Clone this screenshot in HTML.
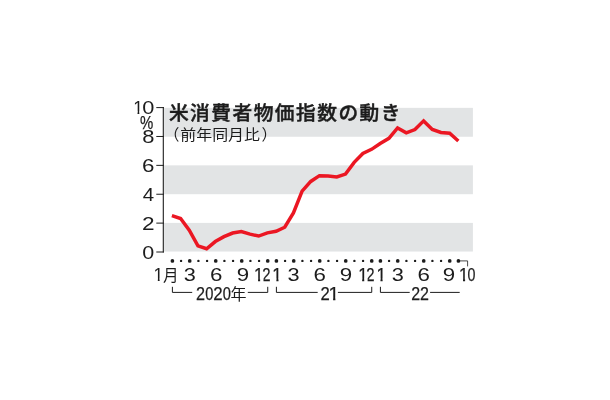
<!DOCTYPE html><html lang="ja"><head><meta charset="utf-8"><title>米消費者物価指数の動き</title>
<style>html,body{margin:0;padding:0;background:#fff}svg{display:block}text{font-family:"Liberation Sans","Noto Sans CJK JP",sans-serif;fill:#1c1c1c}.cd{stroke:#1c1c1c;stroke-width:0.25px}.jp{font-family:"Noto Sans CJK JP","Liberation Sans",sans-serif}</style></head><body>
<svg width="610" height="400" viewBox="0 0 610 400">
<rect width="610" height="400" fill="#fff"/>
<rect x="164.1" y="107.85" width="308.80" height="28.90" fill="#e2e4e5"/>
<rect x="164.1" y="165.35" width="308.80" height="28.85" fill="#e2e4e5"/>
<rect x="164.1" y="222.90" width="308.80" height="28.65" fill="#e2e4e5"/>
<path d="M163.3 107.10 V252.50" stroke="#1c1c1c" stroke-width="1.1" fill="none"/>
<path d="M156.3 252.00 H163.8" stroke="#1c1c1c" stroke-width="1" fill="none"/>
<path d="M156.3 223.12 H163.8" stroke="#1c1c1c" stroke-width="1" fill="none"/>
<path d="M156.3 194.24 H163.8" stroke="#1c1c1c" stroke-width="1" fill="none"/>
<path d="M156.3 165.36 H163.8" stroke="#1c1c1c" stroke-width="1" fill="none"/>
<path d="M156.3 136.48 H163.8" stroke="#1c1c1c" stroke-width="1" fill="none"/>
<path d="M156.3 107.60 H163.8" stroke="#1c1c1c" stroke-width="1" fill="none"/>
<text y="258.70" font-size="18.4"><tspan x="142.36" textLength="11.98" lengthAdjust="spacingAndGlyphs">0</tspan></text>
<text y="229.82" font-size="18.4"><tspan x="142.06" textLength="12.57" lengthAdjust="spacingAndGlyphs">2</tspan></text>
<text y="200.94" font-size="18.4"><tspan x="142.73" textLength="11.37" lengthAdjust="spacingAndGlyphs">4</tspan></text>
<text y="172.06" font-size="18.4"><tspan x="142.07" textLength="12.41" lengthAdjust="spacingAndGlyphs">6</tspan></text>
<text y="143.18" font-size="18.4"><tspan x="142.25" textLength="12.21" lengthAdjust="spacingAndGlyphs">8</tspan></text>
<text y="113.90" font-size="18.4"><tspan x="133.20" textLength="9.82" lengthAdjust="spacingAndGlyphs">1</tspan><tspan x="142.25" textLength="12.10" lengthAdjust="spacingAndGlyphs">0</tspan></text>
<rect x="133.75" y="111.43" width="3.77" height="3.37" fill="#fff"/>
<rect x="139.32" y="111.43" width="3.64" height="3.37" fill="#fff"/>
<text class="cd" y="128.70" font-size="19.2"><tspan x="139.97" textLength="13.26" lengthAdjust="spacingAndGlyphs">%</tspan></text>
<text class="jp" x="168.9" y="119.9" font-size="19.7" font-weight="500" stroke="#1c1c1c" stroke-width="0.45" textLength="231.6" lengthAdjust="spacing">米消費者物価指数の動き</text>
<text class="jp" y="139.9" font-size="14.7" font-weight="400"><tspan x="163.9" y="140.3" font-size="15.4">（</tspan><tspan x="180.3" y="139.9" textLength="79.6" lengthAdjust="spacingAndGlyphs">前年同月比</tspan><tspan x="261.6" y="140.3" font-size="15.4">）</tspan></text>
<polyline points="171.90,215.68 180.58,218.57 189.26,230.12 197.94,245.88 206.62,248.77 215.30,241.54 223.98,236.63 232.66,233.02 241.34,231.57 250.02,234.17 258.70,236.05 267.38,232.87 276.06,231.28 284.74,227.24 293.42,212.93 302.10,191.11 310.78,181.43 319.46,175.65 328.14,175.94 336.82,176.95 345.50,174.06 354.18,162.35 362.86,153.54 371.54,149.35 380.22,143.43 388.90,138.37 397.58,127.96 406.26,132.88 414.94,129.55 423.62,120.88 432.30,129.41 440.98,132.44 449.66,133.31 458.34,140.97" fill="none" stroke="#eb1723" stroke-width="3.5" stroke-linejoin="miter" stroke-linecap="butt"/>
<circle cx="172.40" cy="260.9" r="1.85" fill="#1c1c1c"/>
<circle cx="181.07" cy="260.9" r="1.20" fill="#1c1c1c"/>
<circle cx="189.73" cy="260.9" r="1.85" fill="#1c1c1c"/>
<circle cx="198.40" cy="260.9" r="1.20" fill="#1c1c1c"/>
<circle cx="207.07" cy="260.9" r="1.20" fill="#1c1c1c"/>
<circle cx="215.74" cy="260.9" r="1.85" fill="#1c1c1c"/>
<circle cx="224.40" cy="260.9" r="1.20" fill="#1c1c1c"/>
<circle cx="233.07" cy="260.9" r="1.20" fill="#1c1c1c"/>
<circle cx="241.74" cy="260.9" r="1.85" fill="#1c1c1c"/>
<circle cx="250.40" cy="260.9" r="1.20" fill="#1c1c1c"/>
<circle cx="259.07" cy="260.9" r="1.20" fill="#1c1c1c"/>
<circle cx="267.74" cy="260.9" r="1.85" fill="#1c1c1c"/>
<circle cx="276.40" cy="260.9" r="1.85" fill="#1c1c1c"/>
<circle cx="285.07" cy="260.9" r="1.20" fill="#1c1c1c"/>
<circle cx="293.74" cy="260.9" r="1.85" fill="#1c1c1c"/>
<circle cx="302.40" cy="260.9" r="1.20" fill="#1c1c1c"/>
<circle cx="311.07" cy="260.9" r="1.20" fill="#1c1c1c"/>
<circle cx="319.74" cy="260.9" r="1.85" fill="#1c1c1c"/>
<circle cx="328.41" cy="260.9" r="1.20" fill="#1c1c1c"/>
<circle cx="337.07" cy="260.9" r="1.20" fill="#1c1c1c"/>
<circle cx="345.74" cy="260.9" r="1.85" fill="#1c1c1c"/>
<circle cx="354.41" cy="260.9" r="1.20" fill="#1c1c1c"/>
<circle cx="363.07" cy="260.9" r="1.20" fill="#1c1c1c"/>
<circle cx="371.74" cy="260.9" r="1.85" fill="#1c1c1c"/>
<circle cx="380.41" cy="260.9" r="1.85" fill="#1c1c1c"/>
<circle cx="389.07" cy="260.9" r="1.20" fill="#1c1c1c"/>
<circle cx="397.74" cy="260.9" r="1.85" fill="#1c1c1c"/>
<circle cx="406.41" cy="260.9" r="1.20" fill="#1c1c1c"/>
<circle cx="415.08" cy="260.9" r="1.20" fill="#1c1c1c"/>
<circle cx="423.74" cy="260.9" r="1.85" fill="#1c1c1c"/>
<circle cx="432.41" cy="260.9" r="1.20" fill="#1c1c1c"/>
<circle cx="441.08" cy="260.9" r="1.20" fill="#1c1c1c"/>
<circle cx="449.74" cy="260.9" r="1.85" fill="#1c1c1c"/>
<circle cx="458.41" cy="260.9" r="1.85" fill="#1c1c1c"/>
<text y="281.10" font-size="18.8"><tspan x="153.50" textLength="9.82" lengthAdjust="spacingAndGlyphs">1</tspan><tspan class="jp" x="163.1" y="281.0" font-size="15.8" textLength="15.6" lengthAdjust="spacingAndGlyphs">月</tspan></text>
<rect x="154.05" y="278.60" width="3.77" height="3.40" fill="#fff"/>
<rect x="159.62" y="278.60" width="3.64" height="3.40" fill="#fff"/>
<text y="281.10" font-size="18.8"><tspan x="183.87" textLength="12.08" lengthAdjust="spacingAndGlyphs">3</tspan></text>
<text y="281.10" font-size="18.8"><tspan x="210.12" textLength="12.41" lengthAdjust="spacingAndGlyphs">6</tspan></text>
<text y="281.10" font-size="18.8"><tspan x="236.75" textLength="12.40" lengthAdjust="spacingAndGlyphs">9</tspan></text>
<text y="281.10" font-size="18.8"><tspan x="287.42" textLength="12.08" lengthAdjust="spacingAndGlyphs">3</tspan></text>
<text y="281.10" font-size="18.8"><tspan x="313.47" textLength="12.41" lengthAdjust="spacingAndGlyphs">6</tspan></text>
<text y="281.10" font-size="18.8"><tspan x="339.70" textLength="12.40" lengthAdjust="spacingAndGlyphs">9</tspan></text>
<text y="281.10" font-size="18.8"><tspan x="391.82" textLength="12.08" lengthAdjust="spacingAndGlyphs">3</tspan></text>
<text y="281.10" font-size="18.8"><tspan x="417.42" textLength="12.41" lengthAdjust="spacingAndGlyphs">6</tspan></text>
<text y="281.10" font-size="18.8"><tspan x="442.65" textLength="12.40" lengthAdjust="spacingAndGlyphs">9</tspan></text>
<text class="cd" y="281.10" font-size="18.8"><tspan x="254.06" textLength="9.47" lengthAdjust="spacingAndGlyphs">1</tspan><tspan x="262.15" textLength="8.30" lengthAdjust="spacingAndGlyphs">2</tspan></text>
<rect x="254.56" y="278.60" width="3.49" height="3.40" fill="#fff"/>
<rect x="260.15" y="278.60" width="3.35" height="3.40" fill="#fff"/>
<text class="cd" y="281.10" font-size="18.8"><tspan x="272.34" textLength="9.59" lengthAdjust="spacingAndGlyphs">1</tspan></text>
<rect x="272.85" y="278.60" width="3.52" height="3.40" fill="#fff"/>
<rect x="278.50" y="278.60" width="3.39" height="3.40" fill="#fff"/>
<text class="cd" y="281.10" font-size="18.8"><tspan x="358.16" textLength="9.47" lengthAdjust="spacingAndGlyphs">1</tspan><tspan x="366.25" textLength="8.30" lengthAdjust="spacingAndGlyphs">2</tspan></text>
<rect x="358.66" y="278.60" width="3.49" height="3.40" fill="#fff"/>
<rect x="364.25" y="278.60" width="3.35" height="3.40" fill="#fff"/>
<text class="cd" y="281.10" font-size="18.8"><tspan x="376.44" textLength="9.59" lengthAdjust="spacingAndGlyphs">1</tspan></text>
<rect x="376.95" y="278.60" width="3.52" height="3.40" fill="#fff"/>
<rect x="382.60" y="278.60" width="3.39" height="3.40" fill="#fff"/>
<text class="cd" y="281.10" font-size="18.8"><tspan x="459.08" textLength="9.36" lengthAdjust="spacingAndGlyphs">1</tspan><tspan x="467.54" textLength="7.91" lengthAdjust="spacingAndGlyphs">0</tspan></text>
<rect x="459.56" y="278.60" width="3.45" height="3.40" fill="#fff"/>
<rect x="465.10" y="278.60" width="3.32" height="3.40" fill="#fff"/>
<path d="M458.41 260.9 H467.6 V266.4" stroke="#1c1c1c" stroke-width="0.8" fill="none"/>
<path d="M172.40 286.8 V292.4 H192.20" stroke="#1c1c1c" stroke-width="1" fill="none"/>
<path d="M247.80 292.4 H267.74 V286.8" stroke="#1c1c1c" stroke-width="1" fill="none"/>
<text class="cd" y="300.30" font-size="18.8"><tspan x="195.98" textLength="9.03" lengthAdjust="spacingAndGlyphs">2</tspan><tspan x="205.23" textLength="8.14" lengthAdjust="spacingAndGlyphs">0</tspan><tspan x="213.35" textLength="9.40" lengthAdjust="spacingAndGlyphs">2</tspan><tspan x="222.63" textLength="8.14" lengthAdjust="spacingAndGlyphs">0</tspan><tspan class="jp" stroke="none" x="230.5" y="299.7" font-size="15.4" textLength="16.0" lengthAdjust="spacingAndGlyphs">年</tspan></text>
<path d="M276.40 286.8 V292.4 H317.70" stroke="#1c1c1c" stroke-width="1" fill="none"/>
<path d="M337.90 292.4 H371.74 V286.8" stroke="#1c1c1c" stroke-width="1" fill="none"/>
<text class="cd" y="300.30" font-size="18.8"><tspan x="320.56" textLength="9.28" lengthAdjust="spacingAndGlyphs">2</tspan><tspan x="328.54" textLength="10.73" lengthAdjust="spacingAndGlyphs">1</tspan></text>
<rect x="329.21" y="297.80" width="3.88" height="3.40" fill="#fff"/>
<rect x="335.40" y="297.80" width="3.73" height="3.40" fill="#fff"/>
<path d="M380.41 286.8 V292.4 H409.70" stroke="#1c1c1c" stroke-width="1" fill="none"/>
<path d="M430.1 292.4 H459.7" stroke="#1c1c1c" stroke-width="1" fill="none"/>
<text class="cd" y="300.30" font-size="18.8"><tspan x="411.19" textLength="8.91" lengthAdjust="spacingAndGlyphs">2</tspan><tspan x="419.89" textLength="8.91" lengthAdjust="spacingAndGlyphs">2</tspan></text>
</svg></body></html>
